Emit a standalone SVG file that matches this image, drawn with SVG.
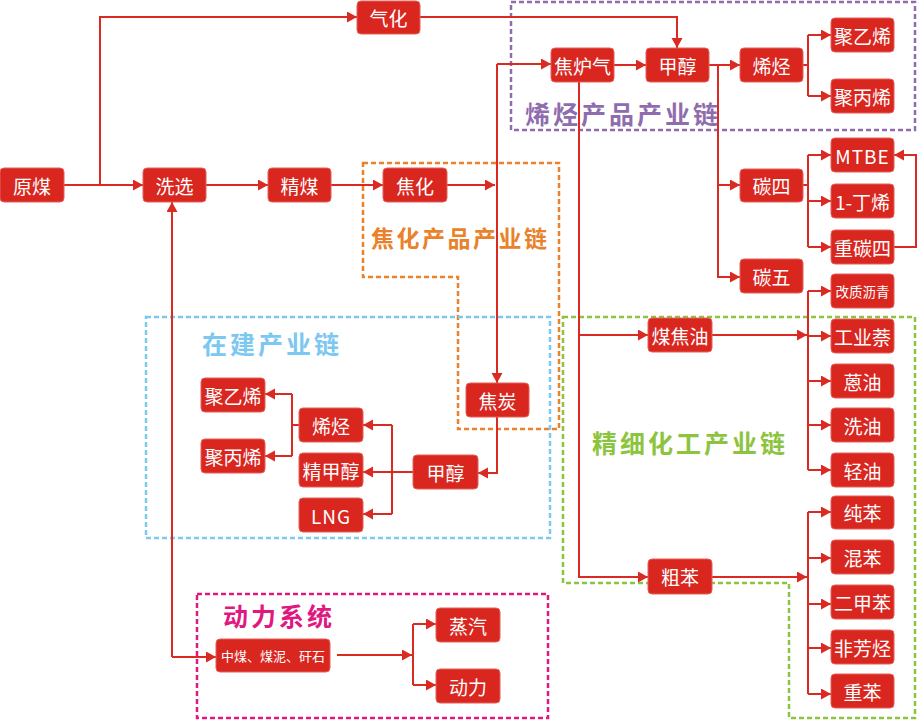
<svg xmlns="http://www.w3.org/2000/svg" width="917" height="720" viewBox="0 0 917 720">
<style>
.n rect{fill:#D9261F;stroke:#E4605A;stroke-width:1}
.n text{fill:#fff;font-family:"Noto Sans CJK SC","Noto Sans",sans-serif;font-size:19px;text-anchor:middle;dominant-baseline:central}
.c path{fill:none;stroke:#DA2A22;stroke-width:2}
.box{fill:none;stroke-width:2.5;stroke-dasharray:5 3}
.lbl{font-family:"Noto Sans CJK SC","Noto Sans",sans-serif;font-weight:bold;dominant-baseline:central;letter-spacing:3px}
</style>
<defs>
<marker id="a" markerUnits="userSpaceOnUse" markerWidth="11" markerHeight="12" refX="10" refY="5.5" orient="auto" viewBox="0 0 11 12">
<path d="M0,0 L10,5.5 L0,11 z" fill="#DA2A22"/>
</marker>
</defs>
<g id="groups">
<rect class="box" x="511" y="2" width="404" height="128" stroke="#8F6CAE"/>
<path class="box" d="M363,163 H559 V429 H458 V277 H363 Z" stroke="#E9822A"/>
<rect class="box" x="146" y="317" width="404" height="221" stroke="#7CC8F0"/>
<path class="box" d="M563,317 H915 V718 H789 V583 H563 Z" stroke="#8DC43F"/>
<rect class="box" x="197" y="594" width="351" height="124" stroke="#E0187F"/>
<text class="lbl" x="525" y="113" font-size="25" fill="#8F6CAE">烯烃产品产业链</text>
<text class="lbl" x="371" y="237" font-size="23" fill="#E9822A" style="letter-spacing:2.5px">焦化产品产业链</text>
<text class="lbl" x="202" y="343" font-size="25" fill="#7CC8F0">在建产业链</text>
<text class="lbl" x="592" y="442" font-size="25" fill="#8DC43F">精细化工产业链</text>
<text class="lbl" x="223" y="615" font-size="25" fill="#E0187F">动力系统</text>
</g>
<g id="connectors" class="c">
<path d="M64,185 H143" marker-end="url(#a)"/>
<path d="M100,185 V17 H357" marker-end="url(#a)"/>
<path d="M420,17 H677 V48" marker-end="url(#a)"/>
<path d="M206,185 H268" marker-end="url(#a)"/>
<path d="M331,185 H383" marker-end="url(#a)"/>
<path d="M447,185 H495" marker-end="url(#a)"/>
<path d="M497,64 H551" marker-end="url(#a)"/>
<path d="M497,64 V383" marker-end="url(#a)"/>
<path d="M614,65 H646" marker-end="url(#a)"/>
<path d="M579,82 V577 H648" marker-end="url(#a)"/>
<path d="M579,335 H648" marker-end="url(#a)"/>
<path d="M709,65 H740" marker-end="url(#a)"/>
<path d="M718,65 V277 H740" marker-end="url(#a)"/>
<path d="M718,185 H740" marker-end="url(#a)"/>
<path d="M803,65 H808 M808,35 V96"/>
<path d="M808,35 H831" marker-end="url(#a)"/>
<path d="M808,96 H831" marker-end="url(#a)"/>
<path d="M803,185 H808 M808,155 V247"/>
<path d="M808,155 H831" marker-end="url(#a)"/>
<path d="M808,201 H831" marker-end="url(#a)"/>
<path d="M808,247 H831" marker-end="url(#a)"/>
<path d="M894,247 H916 V155 H894" marker-end="url(#a)"/>
<path d="M712,335 H807" marker-end="url(#a)"/>
<path d="M808,291 V470"/>
<path d="M808,291 H831" marker-end="url(#a)"/>
<path d="M808,336 H831" marker-end="url(#a)"/>
<path d="M808,381 H831" marker-end="url(#a)"/>
<path d="M808,425 H831" marker-end="url(#a)"/>
<path d="M808,470 H831" marker-end="url(#a)"/>
<path d="M712,577 H807" marker-end="url(#a)"/>
<path d="M808,512 V694"/>
<path d="M808,512 H831" marker-end="url(#a)"/>
<path d="M808,558 H831" marker-end="url(#a)"/>
<path d="M808,604 H831" marker-end="url(#a)"/>
<path d="M808,648 H831" marker-end="url(#a)"/>
<path d="M808,694 H831" marker-end="url(#a)"/>
<path d="M497,417 V473 H478" marker-end="url(#a)"/>
<path d="M413,472 H363" marker-end="url(#a)"/>
<path d="M392,425 V514"/>
<path d="M392,425 H363" marker-end="url(#a)"/>
<path d="M392,514 H363" marker-end="url(#a)"/>
<path d="M299,425 H292 M292,394 V456"/>
<path d="M292,394 H265" marker-end="url(#a)"/>
<path d="M292,456 H265" marker-end="url(#a)"/>
<path d="M172,657 V202" marker-end="url(#a)"/>
<path d="M172,657 H216" marker-end="url(#a)"/>
<path d="M337,655 H412" marker-end="url(#a)"/>
<path d="M413,624 V685"/>
<path d="M413,624 H436" marker-end="url(#a)"/>
<path d="M413,685 H436" marker-end="url(#a)"/>
</g>
<g id="n-yuanmei" class="n"><rect x="0" y="168" width="64" height="34" rx="4"/><text x="32" y="185">原煤</text></g>
<g id="n-xixuan" class="n"><rect x="143" y="168" width="63" height="34" rx="4"/><text x="174.5" y="185">洗选</text></g>
<g id="n-jingmei" class="n"><rect x="268" y="168" width="63" height="34" rx="4"/><text x="299.5" y="185">精煤</text></g>
<g id="n-jiaohua" class="n"><rect x="383" y="168" width="64" height="34" rx="4"/><text x="415" y="185">焦化</text></g>
<g id="n-qihua" class="n"><rect x="357" y="1" width="63" height="33" rx="4"/><text x="388.5" y="17.5">气化</text></g>
<g id="n-jiaoluqi" class="n"><rect x="551" y="48" width="63" height="34" rx="4"/><text x="582.5" y="65">焦炉气</text></g>
<g id="n-jiachun1" class="n"><rect x="646" y="48" width="63" height="34" rx="4"/><text x="677.5" y="65">甲醇</text></g>
<g id="n-xiting1" class="n"><rect x="740" y="48" width="63" height="34" rx="4"/><text x="771.5" y="65">烯烃</text></g>
<g id="n-juyixi1" class="n"><rect x="831" y="18" width="63" height="34" rx="4"/><text x="862.5" y="35">聚乙烯</text></g>
<g id="n-jubingxi1" class="n"><rect x="831" y="79" width="63" height="34" rx="4"/><text x="862.5" y="96">聚丙烯</text></g>
<g id="n-tansi" class="n"><rect x="740" y="169" width="63" height="33" rx="4"/><text x="771.5" y="185.5">碳四</text></g>
<g id="n-mtbe" class="n"><rect x="831" y="138" width="63" height="34" rx="4"/><text x="862.5" y="155" style="letter-spacing:1px">MTBE</text></g>
<g id="n-dingxi" class="n"><rect x="831" y="184" width="63" height="34" rx="4"/><text x="862.5" y="201">1-丁烯</text></g>
<g id="n-zhongtansi" class="n"><rect x="831" y="230" width="63" height="34" rx="4"/><text x="862.5" y="247">重碳四</text></g>
<g id="n-tanwu" class="n"><rect x="740" y="259" width="63" height="34" rx="4"/><text x="771.5" y="276">碳五</text></g>
<g id="n-gaizhi" class="n"><rect x="831" y="274" width="63" height="34" rx="4"/><text x="862.5" y="291" style="font-size:13.5px">改质沥青</text></g>
<g id="n-meijiaoyou" class="n"><rect x="648" y="318" width="64" height="34" rx="4"/><text x="680" y="335">煤焦油</text></g>
<g id="n-gongyenai" class="n"><rect x="831" y="319" width="63" height="34" rx="4"/><text x="862.5" y="336">工业萘</text></g>
<g id="n-enyou" class="n"><rect x="831" y="364" width="63" height="34" rx="4"/><text x="862.5" y="381">蒽油</text></g>
<g id="n-xiyou" class="n"><rect x="831" y="408" width="63" height="34" rx="4"/><text x="862.5" y="425">洗油</text></g>
<g id="n-qingyou" class="n"><rect x="831" y="453" width="63" height="34" rx="4"/><text x="862.5" y="470">轻油</text></g>
<g id="n-chunben" class="n"><rect x="831" y="496" width="63" height="33" rx="4"/><text x="862.5" y="512.5">纯苯</text></g>
<g id="n-hunben" class="n"><rect x="831" y="540" width="63" height="34" rx="4"/><text x="862.5" y="557">混苯</text></g>
<g id="n-erjiaben" class="n"><rect x="831" y="585" width="63" height="34" rx="4"/><text x="862.5" y="602">二甲苯</text></g>
<g id="n-feifangting" class="n"><rect x="831" y="630" width="63" height="34" rx="4"/><text x="862.5" y="647">非芳烃</text></g>
<g id="n-zhongben" class="n"><rect x="831" y="674" width="63" height="34" rx="4"/><text x="862.5" y="691">重苯</text></g>
<g id="n-cuben" class="n"><rect x="648" y="559" width="64" height="35" rx="4"/><text x="680" y="576.5">粗苯</text></g>
<g id="n-jiaotan" class="n"><rect x="466" y="383" width="63" height="34" rx="4"/><text x="497.5" y="400">焦炭</text></g>
<g id="n-jiachun2" class="n"><rect x="413" y="455" width="65" height="34" rx="4"/><text x="445.5" y="472">甲醇</text></g>
<g id="n-xiting2" class="n"><rect x="299" y="408" width="64" height="34" rx="4"/><text x="331" y="425">烯烃</text></g>
<g id="n-jingjiachun" class="n"><rect x="299" y="453" width="64" height="34" rx="4"/><text x="331" y="470">精甲醇</text></g>
<g id="n-lng" class="n"><rect x="299" y="498" width="64" height="34" rx="4"/><text x="331" y="515" style="letter-spacing:1px">LNG</text></g>
<g id="n-juyixi2" class="n"><rect x="201" y="378" width="64" height="34" rx="4"/><text x="233" y="395">聚乙烯</text></g>
<g id="n-jubingxi2" class="n"><rect x="201" y="439" width="64" height="34" rx="4"/><text x="233" y="456">聚丙烯</text></g>
<g id="n-zhongmei" class="n"><rect x="216" y="639" width="114" height="33" rx="4"/><text x="273" y="655.5" style="font-size:13px">中煤、煤泥、矸石</text></g>
<g id="n-zhengqi" class="n"><rect x="436" y="608" width="64" height="34" rx="4"/><text x="468" y="625">蒸汽</text></g>
<g id="n-dongli" class="n"><rect x="436" y="669" width="64" height="34" rx="4"/><text x="468" y="686">动力</text></g>
</svg>
